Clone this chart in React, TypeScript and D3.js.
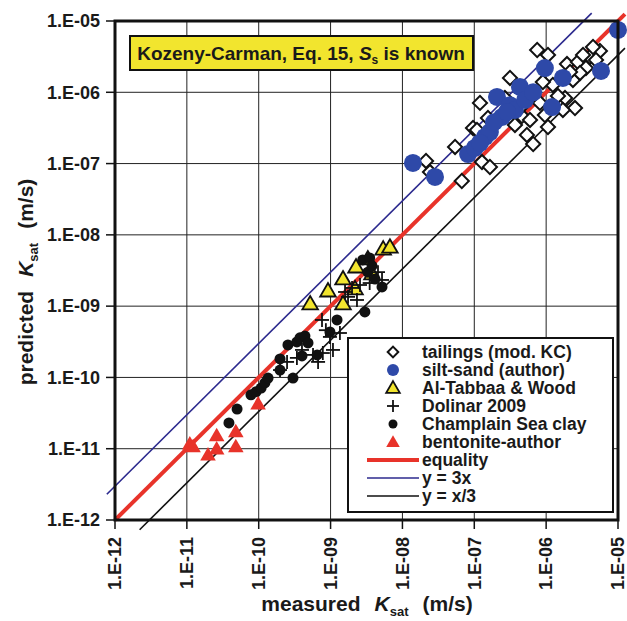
import React from "react";
import * as d3 from "d3";

// [measured, predicted] pairs, m/s
const tailings = [
  [2.13e-8, 1.09e-7], [2.42e-8, 7.6e-8], [5.4e-8, 1.71e-7], [6.7e-8, 5.7e-8], [9.6e-8, 3.16e-7],
  [1.2e-7, 7.1e-7], [1.55e-7, 4.36e-7], [1.09e-7, 2.96e-7], [1.28e-7, 1.05e-7], [1.65e-7, 8.96e-8],
  [3.14e-7, 1.59e-6], [7.5e-7, 3.92e-6], [1.06e-6, 3.34e-6], [1.95e-6, 2.49e-6], [2.77e-6, 2.66e-6],
  [4.07e-6, 3.13e-6], [5.6e-6, 3.8e-6], [1.24e-6, 1.27e-6], [1.83e-6, 8.3e-7], [2.52e-6, 6.0e-7],
  [1.06e-6, 3.26e-7], [5.4e-7, 2.52e-7], [6.6e-7, 1.88e-7], [4.6e-7, 4.65e-7], [5.96e-7, 4.09e-7],
  [9.0e-7, 1.39e-6], [2.36e-6, 1.49e-6], [3.58e-6, 2.19e-6], [2.96e-6, 1.87e-6], [4.32e-7, 6.0e-7],
  [8.2e-7, 7.1e-7], [1.46e-6, 8.9e-7], [9.6e-7, 4.8e-7], [1.71e-6, 5.65e-7], [4.94e-6, 2.84e-6],
  [2.15e-6, 1.93e-6], [3.68e-7, 3.48e-7], [2.67e-7, 8.3e-7], [4.49e-6, 4.32e-6], [3.26e-6, 3.34e-6],
];
const siltSand = [
  [1.4e-8, 1.02e-7], [2.84e-8, 6.5e-8], [8.2e-8, 1.36e-7], [1.02e-7, 1.66e-7], [1.41e-7, 2.36e-7],
  [1.65e-7, 2.77e-7], [2.07e-7, 8.6e-7], [2.43e-7, 4.5e-7], [3.14e-7, 6.6e-7], [3.68e-7, 5.65e-7],
  [4.32e-7, 1.19e-6], [5.1e-7, 7.8e-7], [6.6e-7, 1.0e-6], [9.6e-7, 2.19e-6], [1.21e-6, 6.2e-7],
  [1.71e-6, 1.59e-6], [5.8e-6, 1.99e-6], [1.0e-5, 7.5e-6], [1.88e-7, 3.8e-7], [2.85e-7, 5.3e-7],
  [1.2e-7, 1.95e-7],
];
const alTabbaa = [
  [5.2e-10, 1.04e-9], [9.2e-10, 1.58e-9], [1.49e-9, 2.33e-9], [1.49e-9, 1.04e-9], [2.26e-9, 3.43e-9],
  [3.3e-9, 4.45e-9], [5.4e-9, 6.1e-9], [6.7e-9, 6.5e-9], [3.77e-9, 2.74e-9], [2.19e-9, 1.69e-9],
];
const dolinar = [
  [1.98e-10, 1.27e-10], [2.48e-10, 1.65e-10], [3.4e-10, 1.88e-10], [4.0e-10, 2.43e-10], [5.7e-10, 2.07e-10],
  [6.7e-10, 1.65e-10], [7.8e-10, 2.2e-10], [1.08e-9, 2.43e-10], [9.8e-10, 3.7e-10], [1.35e-9, 4.2e-10],
  [7.6e-10, 6.4e-10], [8.6e-10, 4.6e-10], [1.59e-9, 1.58e-9], [1.99e-9, 1.8e-9], [1.75e-9, 1.35e-9],
  [2.33e-9, 1.22e-9], [3.5e-9, 2.11e-9], [4.57e-9, 3.0e-9], [5.2e-9, 2.33e-9], [2.57e-9, 1.98e-9],
];
const champlain = [
  [3.85e-11, 2.3e-11], [5.0e-11, 3.6e-11], [7.8e-11, 5.7e-11], [9.2e-11, 6.3e-11], [1.08e-10, 7.1e-11],
  [1.22e-10, 8.4e-11], [1.35e-10, 9.8e-11], [1.98e-10, 1.27e-10], [1.98e-10, 1.82e-10], [2.55e-10, 2.86e-10],
  [3.4e-10, 3.15e-10], [3.75e-10, 3.6e-10], [4.4e-10, 3.8e-10], [4.85e-10, 3.05e-10], [4.0e-10, 2.0e-10],
  [6.5e-10, 2.07e-10], [3.0e-10, 9.8e-11], [9.8e-10, 4.35e-10], [1.23e-9, 6.4e-10], [3.0e-9, 8.3e-10],
  [2.8e-9, 4.45e-9], [3.5e-9, 4.75e-9], [3.3e-9, 3.0e-9], [4.15e-9, 2.4e-9], [5.2e-9, 1.86e-9],
  [3.77e-9, 3.66e-9],
];
const bentonite = [
  [1.1e-11, 1.13e-11], [1.22e-11, 1.03e-11], [2.6e-11, 1.47e-11], [2.6e-11, 9.6e-12],
  [1.97e-11, 7.9e-12], [4.8e-11, 1.67e-11], [4.8e-11, 1.03e-11], [9.8e-11, 4.1e-11],
];
const tickValues = [1e-12, 1e-11, 1e-10, 1e-9, 1e-8, 1e-7, 1e-6, 1e-5];
const legendLabels = [
  "tailings (mod. KC)", "silt-sand (author)", "Al-Tabbaa & Wood", "Dolinar 2009",
  "Champlain Sea clay", "bentonite-author", "equality", "y = 3x", "y = x/3",
];

const FONT = "'Liberation Sans', Arial, Helvetica, sans-serif";
const RED = "#e8332a";
const BLUE = "#2e49a8";
const NAVY = "#2c2a8e";
const YELLOW = "#f2e52e";

const fmt = (v: number) => {
  const e = Math.round(Math.log10(v));
  return "1.E-" + String(-e).padStart(2, "0");
};

export default function App() {
  const x = d3.scaleLog().domain([1e-12, 1e-5]).range([115, 618]);
  const y = d3.scaleLog().domain([1e-12, 1e-5]).range([520, 21]);
  const line = d3.line<number[]>().x(d => x(d[0])).y(d => y(d[1]));

  const refLines = [
    { pts: [[1e-12, 1e-12], [1.25e-5, 1.25e-5]], color: RED, w: 4 },
    { pts: [[7.7e-13, 2.3e-12], [4.3e-6, 1.29e-5]], color: NAVY, w: 1.6 },
    { pts: [[2.2e-12, 7.3e-13], [1.25e-5, 4.17e-6]], color: "#111", w: 1.6 },
  ];

  const square = d3.symbol(d3.symbolSquare, 100)()!;
  const tri = d3.symbol(d3.symbolTriangle, 105)()!;
  const triSmall = d3.symbol(d3.symbolTriangle, 80)()!;

  const diamond = (key: any, cx: number, cy: number, s = 1) => (
    <path key={key} d={square} transform={`translate(${cx},${cy}) rotate(45) scale(${s})`}
      fill="#fff" stroke="#111" strokeWidth={2 / s} />
  );
  const plus = (key: any, cx: number, cy: number, h = 7) => (
    <g key={key} stroke="#111" strokeWidth={1.8}>
      <line x1={cx - h} x2={cx + h} y1={cy} y2={cy} />
      <line x1={cx} x2={cx} y1={cy - h} y2={cy + h} />
    </g>
  );

  const legX = 393, legTextX = 422, legY0 = 352, legDy = 18;

  return (
    <svg width={627} height={621} style={{ position: "absolute", left: 0, top: 0, background: "#fff" }}
      fontFamily={FONT}>
      {/* grid */}
      {tickValues.slice(1, -1).map(v => (
        <g key={"g" + v} stroke="#222" strokeWidth={1}>
          <line x1={x(v)} x2={x(v)} y1={y(1e-5)} y2={y(1e-12)} />
          <line x1={x(1e-12)} x2={x(1e-5)} y1={y(v)} y2={y(v)} />
        </g>
      ))}
      {/* ticks & labels */}
      {tickValues.map(v => (
        <g key={"t" + v}>
          <line x1={x(v)} x2={x(v)} y1={520} y2={529} stroke="#111" strokeWidth={1.5} />
          <line x1={106} x2={115} y1={y(v)} y2={y(v)} stroke="#111" strokeWidth={1.5} />
          <text x={100} y={y(v)} dy="0.35em" textAnchor="end" fontSize={18} fontWeight="bold" fill="#1a1a1a">{fmt(v)}</text>
          <text transform={`translate(${x(v)},537) rotate(-90)`} dy="0.35em" textAnchor="end" fontSize={18}
            fontWeight="bold" fill="#1a1a1a">{fmt(v)}</text>
        </g>
      ))}

      {/* title box */}
      <rect x={130} y={36} width={343} height={34} fill={YELLOW} stroke="#111" strokeWidth={2} />
      <text x={301} y={60} textAnchor="middle" fontSize={19} fontWeight="bold" fill="#1a1a1a">
        Kozeny-Carman, Eq. 15, <tspan fontStyle="italic">S</tspan>
        <tspan fontSize={12} dy={4}>s</tspan><tspan dy={-4}> is known</tspan>
      </text>

      {/* reference lines */}
      {refLines.map((l, i) => (
        <path key={"l" + i} d={line(l.pts)!} stroke={l.color} strokeWidth={l.w} fill="none" />
      ))}

      {/* data */}
      {tailings.map((d, i) => diamond("ta" + i, x(d[0]), y(d[1])))}
      {siltSand.map((d, i) => (
        <circle key={"si" + i} cx={x(d[0])} cy={y(d[1])} r={9} fill={BLUE} />
      ))}
      {alTabbaa.map((d, i) => (
        <path key={"al" + i} d={tri} transform={`translate(${x(d[0])},${y(d[1])})`}
          fill={YELLOW} stroke="#111" strokeWidth={1.8} />
      ))}
      {dolinar.map((d, i) => plus("do" + i, x(d[0]), y(d[1])))}
      {champlain.map((d, i) => (
        <circle key={"ch" + i} cx={x(d[0])} cy={y(d[1])} r={5.5} fill="#111" />
      ))}
      {bentonite.map((d, i) => (
        <path key={"be" + i} d={tri} transform={`translate(${x(d[0])},${y(d[1])})`} fill={RED} />
      ))}

      {/* frame */}
      <rect x={115} y={21} width={503} height={499} fill="none" stroke="#111" strokeWidth={3} />

      {/* legend */}
      <rect x={348} y={338} width={265} height={174} fill="#fff" stroke="#111" strokeWidth={2} />
      {legendLabels.map((t, i) => (
        <text key={"lt" + i} x={legTextX} y={legY0 + i * legDy} dy="0.35em" fontSize={17.5}
          fontWeight="bold" fill="#1a1a1a">{t}</text>
      ))}
      {diamond("lg0", legX, legY0, 0.75)}
      <circle cx={legX} cy={legY0 + legDy} r={6} fill={BLUE} />
      <path d={triSmall} transform={`translate(${legX},${legY0 + 2 * legDy + 1})`} fill={YELLOW} stroke="#111" strokeWidth={1.8} />
      {plus("lg3", legX, legY0 + 3 * legDy, 6)}
      <circle cx={legX} cy={legY0 + 4 * legDy} r={4.5} fill="#111" />
      <path d={triSmall} transform={`translate(${legX},${legY0 + 5 * legDy + 1})`} fill={RED} />
      <line x1={367} x2={419} y1={legY0 + 6 * legDy} y2={legY0 + 6 * legDy} stroke={RED} strokeWidth={4} />
      <line x1={367} x2={419} y1={legY0 + 7 * legDy} y2={legY0 + 7 * legDy} stroke={NAVY} strokeWidth={1.6} />
      <line x1={367} x2={419} y1={legY0 + 8 * legDy} y2={legY0 + 8 * legDy} stroke="#111" strokeWidth={1.6} />

      {/* axis titles */}
      <text x={367} y={611} textAnchor="middle" fontSize={21} fontWeight="bold" fill="#1a1a1a">
        measured<tspan fontStyle="italic" dx={14}>K</tspan><tspan fontSize={13} dy={5}>sat</tspan>
        <tspan dy={-5} dx={14}>(m/s)</tspan>
      </text>
      <text transform="translate(33,282) rotate(-90)" textAnchor="middle" fontSize={21} fontWeight="bold" fill="#1a1a1a">
        predicted<tspan fontStyle="italic" dx={14}>K</tspan><tspan fontSize={13} dy={5}>sat</tspan>
        <tspan dy={-5} dx={14}>(m/s)</tspan>
      </text>
    </svg>
  );
}
